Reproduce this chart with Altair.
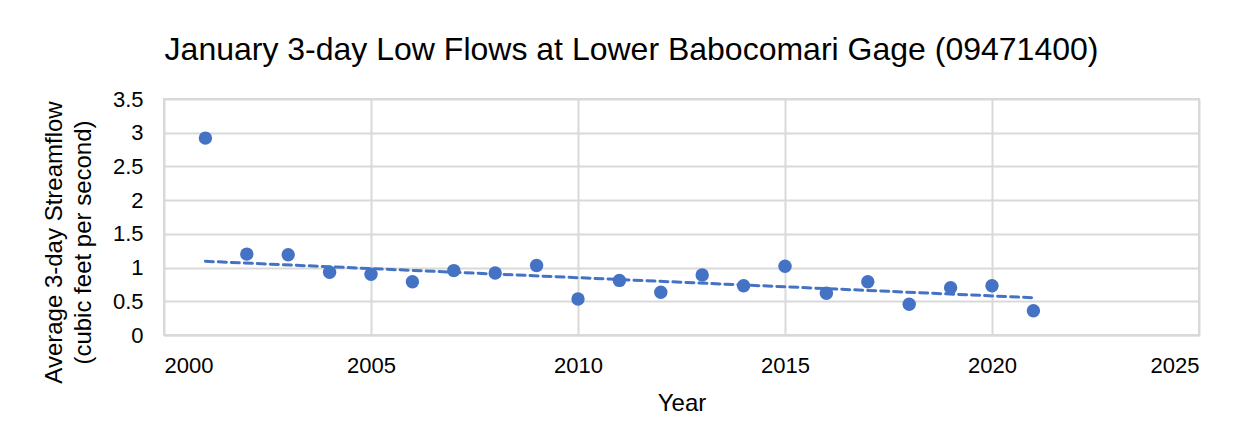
import altair as alt
import pandas as pd

years = list(range(2001, 2022))
flows = [2.92, 1.20, 1.19, 0.93, 0.90, 0.79, 0.955, 0.92, 1.03, 0.535,
         0.81, 0.635, 0.89, 0.73, 1.02, 0.62, 0.79, 0.456, 0.70, 0.73, 0.36]
trend_start = 2002  # trendline fitted to 2002-2021, drawn from 2001

df = pd.DataFrame({"Year": years, "Flow": flows})

BLUE = "#4472C4"
FONT = "Liberation Sans"

x = alt.X("Year:Q", scale=alt.Scale(domain=[2000, 2025], nice=False),
          axis=alt.Axis(values=[2000, 2005, 2010, 2015, 2020, 2025], format="d",
                        title="Year", titleFontSize=24, titleFont=FONT, titleFontWeight="normal",
                        titleColor="#000", titlePadding=15,
                        labelFontSize=22, labelFont=FONT, labelColor="#000", labelPadding=20,
                        labelOverlap=False,
                        ticks=False, domainColor="#d9d9d9", domainWidth=2,
                        gridColor="#d9d9d9", gridWidth=2))
y = alt.Y("Flow:Q", scale=alt.Scale(domain=[0, 3.5], nice=False),
          axis=alt.Axis(values=[0, 0.5, 1, 1.5, 2, 2.5, 3, 3.5], format="~g",
                        title=["Average 3-day Streamflow", "(cubic feet per second)"],
                        titleFontSize=24, titleFont=FONT, titleFontWeight="normal",
                        titleColor="#000", titleX=-98, titleY=143, titleBaseline="bottom",
                        titleLineHeight=29,
                        labelFontSize=22, labelFont=FONT, labelColor="#000", labelPadding=21,
                        labelOverlap=False,
                        ticks=False, domain=False,
                        gridColor="#d9d9d9", gridWidth=2))

points = alt.Chart(df).mark_circle(size=180, color=BLUE, opacity=1).encode(x=x, y=y)

trend = alt.Chart(df).transform_filter(
    alt.datum.Year >= trend_start
).transform_regression("Year", "Flow", extent=[2001, 2021]).mark_line(
    color=BLUE, strokeWidth=3, strokeDash=[8, 5], strokeCap="round"
).encode(x=x, y=y)

chart = alt.layer(trend, points).properties(
    width=1035, height=236,
    title=alt.TitleParams(
        "January 3-day Low Flows at Lower Babocomari Gage (09471400)",
        font=FONT, fontSize=32, fontWeight="normal", color="#000",
        anchor="middle", dx=-50, dy=13, offset=9, baseline="alphabetic"),
    autosize=alt.AutoSizeParams(type="none"),
    padding={"left": 156, "top": 91, "right": 30, "bottom": 90},
).configure_view(stroke="#d9d9d9", strokeWidth=2)

chart.save("out.html", embed_options={"renderer": "svg", "actions": False})
